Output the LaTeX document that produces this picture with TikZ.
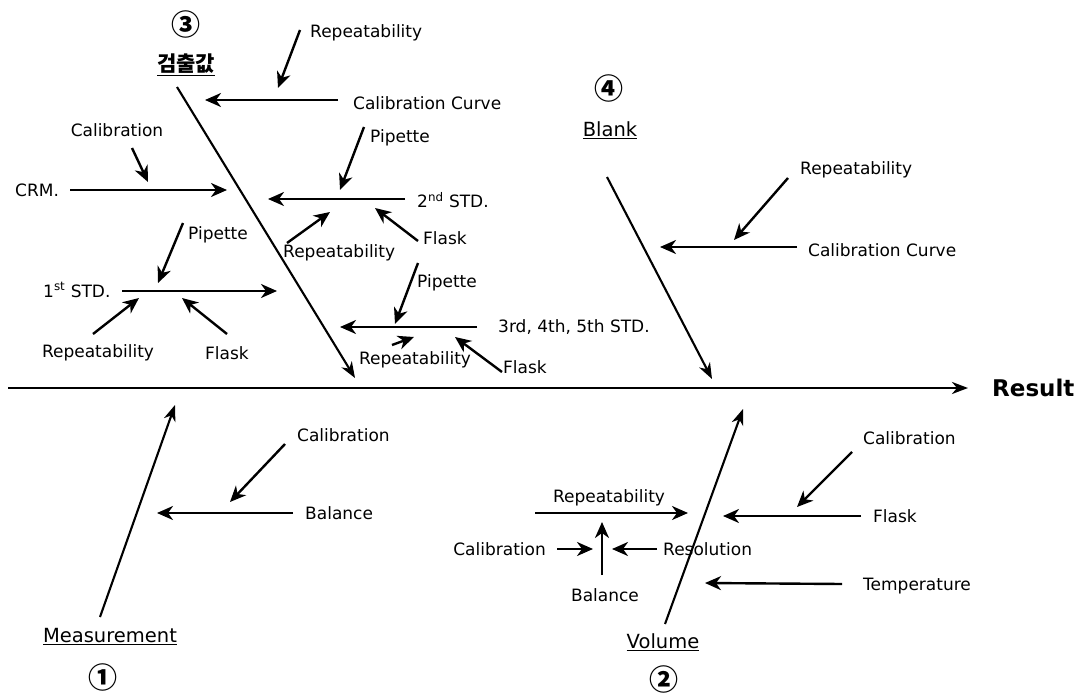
\documentclass[tikz,border=0pt]{standalone}
\usepackage{fontspec}
\setmainfont{DejaVu Sans}
\newfontfamily\kr{Noto Sans CJK KR}
\usetikzlibrary{arrows.meta}
\begin{document}
\begin{tikzpicture}[x=1pt,y=-1pt,
  lbl/.style={font=\fontsize{17}{19}\selectfont, inner sep=0pt},
  ttl/.style={font=\fontsize{19.5}{21}\selectfont, inner sep=0pt},
  num/.style={font=\kr\bfseries\fontsize{29}{30}\selectfont, inner sep=0pt},
  arr/.style={-{Stealth[length=16pt,width=14pt,inset=5pt]}, line width=2.4pt},
  bone/.style={-{Stealth[length=16pt,width=12pt,inset=5pt]}, line width=2.1pt},
]
\useasboundingbox (0,0) rectangle (1079,693);

% ---------- spine ----------
\coordinate (sp0) at (8,388);
\node[inner sep=0pt, anchor=west, font=\bfseries\fontsize{23}{25}\selectfont] (res) at (992,388) {Result};
\coordinate (sp1) at (968,388);
\draw[bone, line width=2.6pt] (sp0) -- (sp1);

% ---------- branch 3 ----------
\node[num] (n3) at (186,24) {③};
\node[font=\kr\bfseries\fontsize{21}{23}\selectfont, inner sep=0pt] (t3) at (186,65) {\underline{검출값}};
\coordinate (b3s) at (177,87); \coordinate (b3e) at (355,378);
\draw[bone] (b3s) -- (b3e);

\node[lbl,anchor=west] (r3a) at (310,33) {Repeatability};
\coordinate (r3a1) at (300,30); \coordinate (r3a2) at (278,88);
\draw[arr] (r3a1) -- (r3a2);
\node[lbl,anchor=west] (cc3) at (353,103) {Calibration Curve};
\coordinate (cc31) at (338,100); \coordinate (cc32) at (205,100);
\draw[arr] (cc31) -- (cc32);

\node[lbl] (cal3) at (117,130) {Calibration};
\coordinate (cal31) at (132,148); \coordinate (cal32) at (148,182);
\draw[arr] (cal31) -- (cal32);
\node[lbl,anchor=west] (crm) at (15,190) {CRM.};
\coordinate (crm1) at (70,190); \coordinate (crm2) at (227,190);
\draw[arr] (crm1) -- (crm2);

% 2nd STD
\node[lbl,anchor=west] (s2) at (417,200) {2\textsuperscript{nd} STD.};
\coordinate (s21) at (405,199); \coordinate (s22) at (268,199);
\draw[arr] (s21) -- (s22);
\node[lbl,anchor=west] (p2) at (370,138) {Pipette};
\coordinate (p21) at (364,127); \coordinate (p22) at (340,190);
\draw[arr] (p21) -- (p22);
\node[lbl,anchor=west] (rp2) at (283,253) {Repeatability};
\coordinate (rp21) at (287,243); \coordinate (rp22) at (330,212);
\draw[arr] (rp21) -- (rp22);
\node[lbl,anchor=west] (f2) at (423,238) {Flask};
\coordinate (f21) at (418,241); \coordinate (f22) at (375,208);
\draw[arr] (f21) -- (f22);

% 1st STD
\node[lbl,anchor=west] (s1) at (43,290) {1\textsuperscript{st} STD.};
\coordinate (s11) at (122,291); \coordinate (s12) at (277,291);
\draw[arr] (s11) -- (s12);
\node[lbl,anchor=west] (p1) at (188,235) {Pipette};
\coordinate (p11) at (183,223); \coordinate (p12) at (158,283);
\draw[arr] (p11) -- (p12);
\node[lbl] (rp1) at (98,353) {Repeatability};
\coordinate (rp11) at (93,334); \coordinate (rp12) at (139,298);
\draw[arr] (rp11) -- (rp12);
\node[lbl] (f1) at (227,353) {Flask};
\coordinate (f11) at (227,334); \coordinate (f12) at (182,298);
\draw[arr] (f11) -- (f12);

% 3rd STD
\node[lbl,anchor=west] (s3) at (498,327) {3rd, 4th, 5th STD.};
\coordinate (s31) at (477,327); \coordinate (s32) at (340,327);
\draw[arr] (s31) -- (s32);
\node[lbl,anchor=west] (p3) at (417,283) {Pipette};
\coordinate (p31) at (418,263); \coordinate (p32) at (395,324);
\draw[arr] (p31) -- (p32);
\node[lbl] (rp3) at (415,360) {Repeatability};
\coordinate (rp31) at (392,345); \coordinate (rp32) at (414,337);
\draw[arr] (rp31) -- (rp32);
\node[lbl,anchor=west] (f3) at (503,367) {Flask};
\coordinate (f31) at (502,372); \coordinate (f32) at (455,337);
\draw[arr] (f31) -- (f32);

% ---------- branch 4 ----------
\node[num] (n4) at (609,88) {④};
\node[ttl] (t4) at (610,130) {\underline{Blank}};
\coordinate (b4s) at (607,177); \coordinate (b4e) at (712,379);
\draw[bone] (b4s) -- (b4e);
\node[lbl,anchor=west] (r4) at (800,170) {Repeatability};
\coordinate (r41) at (788,178); \coordinate (r42) at (734,240);
\draw[arr] (r41) -- (r42);
\node[lbl,anchor=west] (cc4) at (808,250) {Calibration Curve};
\coordinate (cc41) at (797,247); \coordinate (cc42) at (660,247);
\draw[arr] (cc41) -- (cc42);

% ---------- branch 1 ----------
\node[ttl] (t1) at (110,637) {\underline{Measurement}};
\node[num] (n1) at (103,677) {①};
\coordinate (b1s) at (100,617); \coordinate (b1e) at (175,405);
\draw[bone] (b1s) -- (b1e);
\node[lbl,anchor=west] (cal1) at (297,435) {Calibration};
\coordinate (cal11) at (285,444); \coordinate (cal12) at (230,502);
\draw[arr] (cal11) -- (cal12);
\node[lbl,anchor=west] (bal1) at (305,513) {Balance};
\coordinate (bal11) at (293,513); \coordinate (bal12) at (157,513);
\draw[arr] (bal11) -- (bal12);

% ---------- branch 2 ----------
\node[ttl] (t2) at (663,642) {\underline{Volume}};
\node[num] (n2) at (664,679) {②};
\coordinate (b2s) at (665,624); \coordinate (b2e) at (743,409);
\draw[bone] (b2s) -- (b2e);
\node[lbl,anchor=west] (cal2) at (863,438) {Calibration};
\coordinate (cal21) at (852,452); \coordinate (cal22) at (797,507);
\draw[arr] (cal21) -- (cal22);
\node[lbl,anchor=west] (fl2) at (873,516) {Flask};
\coordinate (fl21) at (861,516); \coordinate (fl22) at (723,516);
\draw[arr] (fl21) -- (fl22);
\node[lbl,anchor=west] (tmp) at (863,586) {Temperature};
\coordinate (tmp1) at (842,584); \coordinate (tmp2) at (705,583);
\draw[arr] (tmp1) -- (tmp2);
\node[lbl] (rp5) at (609,498) {Repeatability};
\coordinate (rp51) at (535,513); \coordinate (rp52) at (688,513);
\draw[arr] (rp51) -- (rp52);
\node[lbl,anchor=east] (cal5) at (546,549) {Calibration};
\coordinate (cal51) at (557,549); \coordinate (cal52) at (593,549);
\draw[arr] (cal51) -- (cal52);
\node[lbl] (bal5) at (605,595) {Balance};
\coordinate (bal51) at (602,575); \coordinate (bal52) at (602,522);
\draw[arr] (bal51) -- (bal52);
\node[lbl,anchor=west] (rs5) at (663,549) {Resolution};
\coordinate (rs51) at (657,549); \coordinate (rs52) at (612,549);
\draw[arr] (rs51) -- (rs52);
\end{tikzpicture}
\end{document}
